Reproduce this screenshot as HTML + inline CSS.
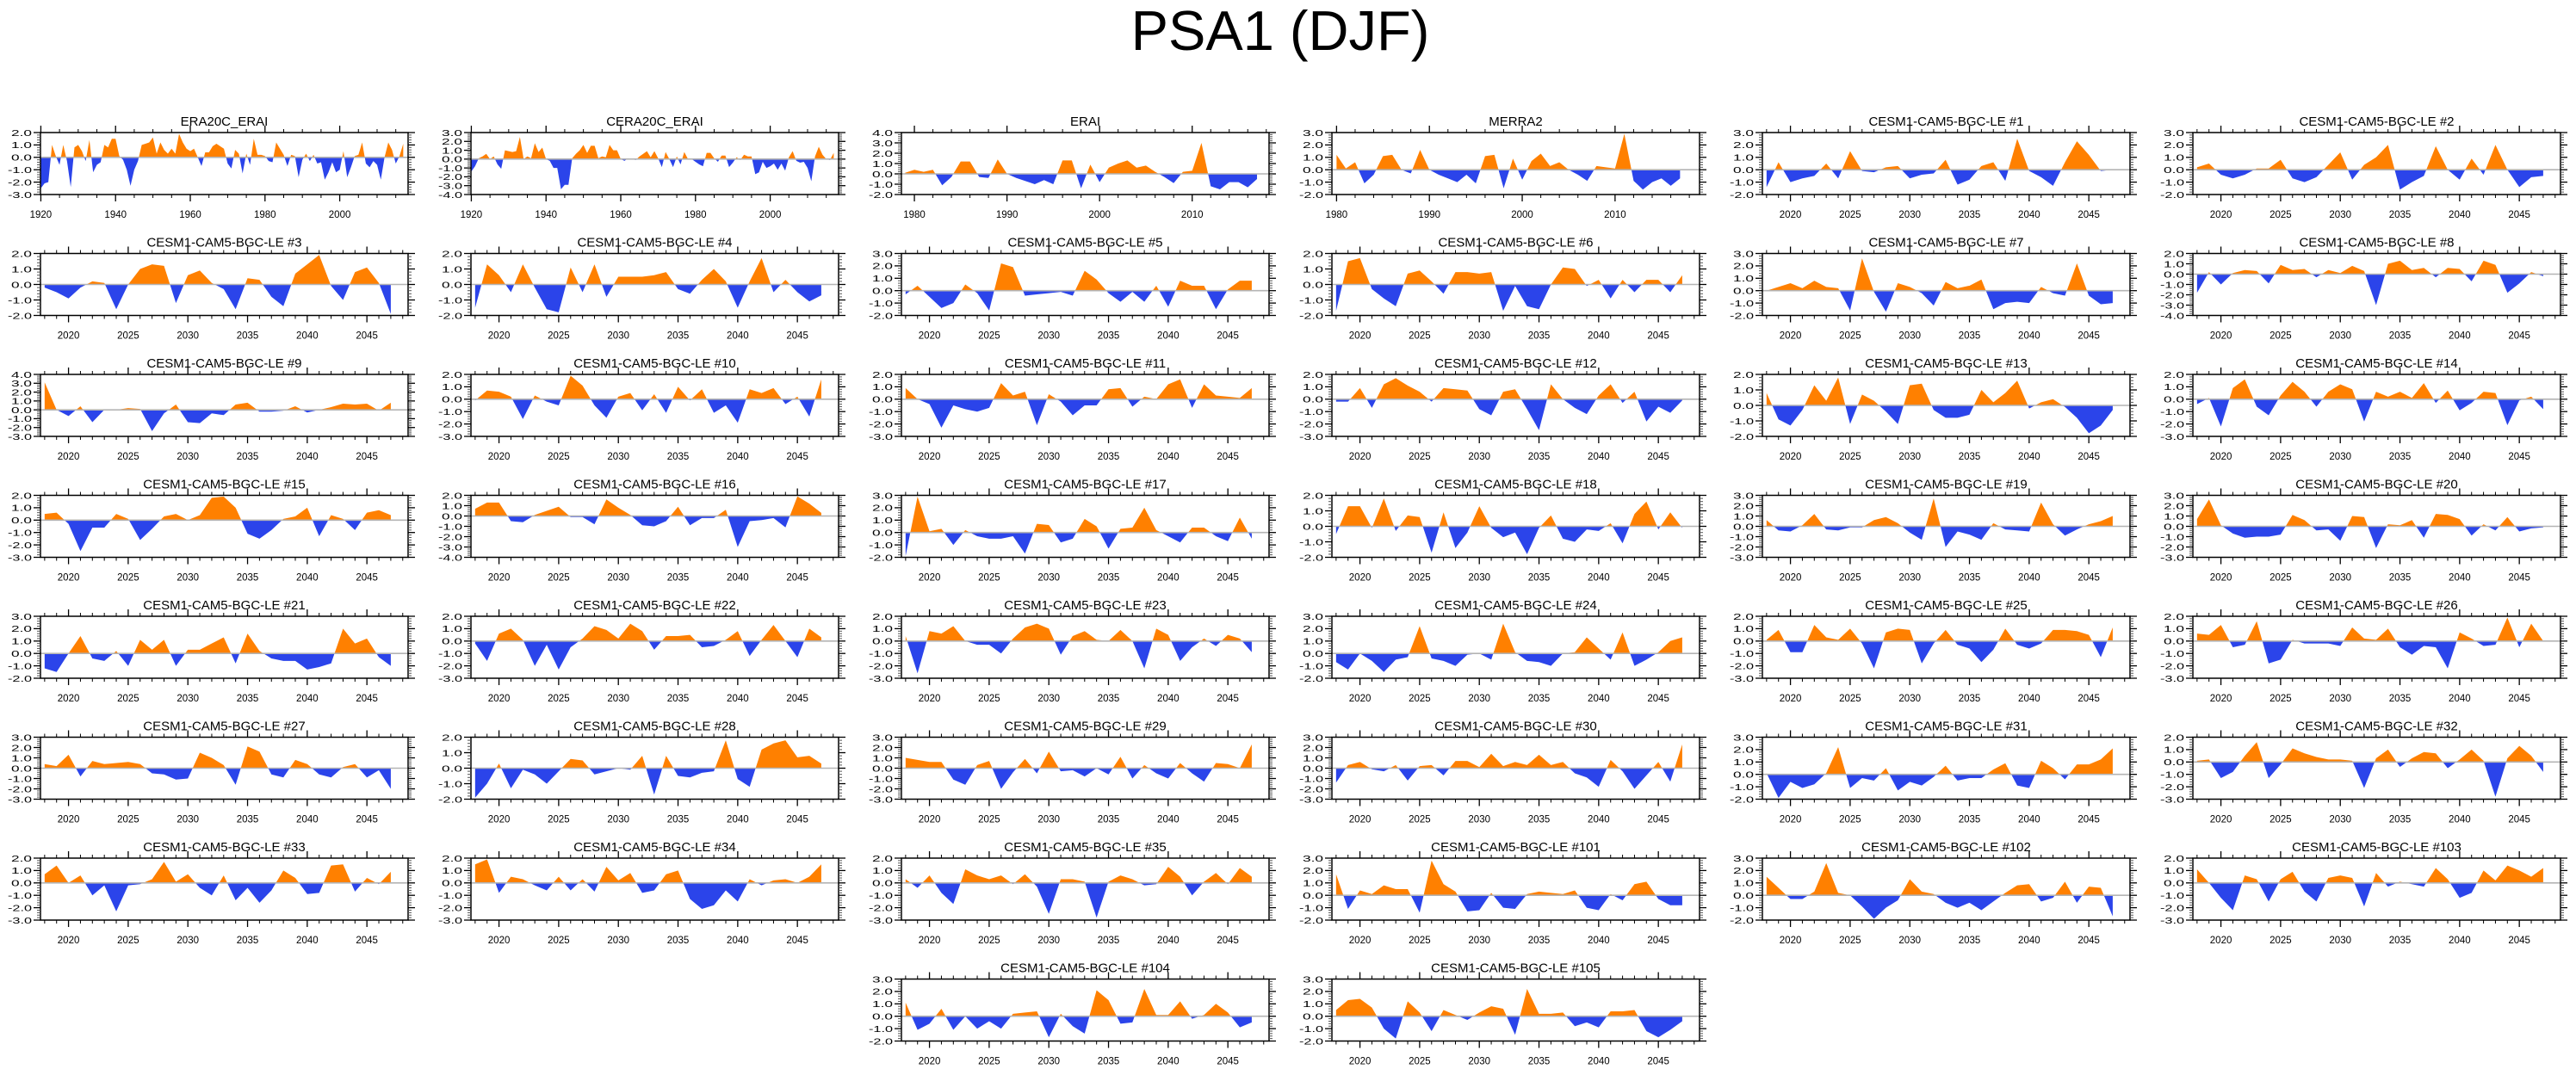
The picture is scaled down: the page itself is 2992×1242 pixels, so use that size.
<!DOCTYPE html>
<html>
<head>
<meta charset="utf-8">
<style>
  html,body{margin:0;padding:0;background:#fff;}
  svg{display:block;}
  text{font-family:"Liberation Sans",Arial,sans-serif;fill:#000;}
</style>
</head>
<body>
<svg id="fig" xmlns="http://www.w3.org/2000/svg" width="2992" height="1242" viewBox="0 0 2992 1242">
  <rect x="0" y="0" width="2992" height="1242" fill="#fff"/>
  <text x="1487" y="58" font-size="65" text-anchor="middle">PSA1 (DJF)</text>
</svg>
<script>
// ---- data (one array per panel) ----
const vERA20C = [-2.5,-2.1,-2.0,1.0,0.1,-0.6,1.0,-0.3,-2.4,0.8,1.0,0.5,-0.3,1.4,-1.2,-0.6,-0.4,1.0,0.8,1.5,1.5,0.1,-0.2,-1.0,-2.3,-1.0,-0.3,1.0,1.1,1.2,1.6,0.3,1.2,0.6,0.3,0.7,0.3,1.9,1.2,0.7,0.5,0.7,0.0,-0.7,0.4,0.4,0.9,1.1,0.9,0.7,-0.5,-0.9,0.6,0.3,-1.3,0.3,-0.6,1.5,0.2,0.2,0.1,-0.3,-0.4,1.2,0.7,0.2,-0.7,0.2,0.1,-1.6,-0.2,0.3,-0.3,0.2,-0.5,-0.4,-1.8,-1.2,-0.4,-1.2,-1.0,0.5,-1.6,-0.8,0.1,0.2,1.2,-0.5,-0.8,-0.3,-0.6,-1.8,0.0,1.2,0.6,-0.5,0.1,1.1];
const vCERA20C = [-1.4,-0.8,0.1,0.3,0.6,0.0,0.3,-0.6,-1.1,1.0,0.9,0.8,0.9,2.5,0.0,0.3,0.1,1.8,0.8,1.3,0.0,-0.2,-1.0,-1.0,-3.4,-2.9,-2.9,0.1,0.6,1.0,1.6,0.7,1.5,1.5,0.1,0.3,0.2,1.6,1.0,1.0,0.0,-0.2,0.1,0.0,-0.1,0.3,0.6,0.9,0.2,0.9,0.1,-0.9,0.8,0.0,-0.9,0.3,-0.6,0.8,0.0,0.0,-0.3,-0.6,-0.8,0.7,0.7,0.1,-0.3,0.4,0.4,-0.9,-0.4,0.2,-0.1,0.5,0.3,0.3,-1.7,-1.5,-0.3,-1.0,-0.8,-0.5,-1.2,-0.5,-1.3,0.2,0.9,-0.2,-0.4,-0.3,-1.0,-2.5,0.3,1.4,0.5,0.0,-0.1,0.7];
const vERAI = [0.1,0.4,0.2,0.4,-1.1,-0.3,1.2,1.2,-0.3,-0.4,1.4,0.0,-0.4,-0.7,-1.0,-0.6,-1.0,1.3,1.3,-1.4,0.9,-0.8,0.6,1.0,1.3,0.6,0.8,0.2,-0.3,-0.9,0.2,0.3,3.0,-1.2,-1.5,-0.8,-0.8,-1.3,-0.5];
const vMERRA2 = [1.2,0.1,0.6,-1.1,-0.4,1.1,1.2,0.0,-0.3,1.6,0.0,-0.4,-0.7,-1.0,-0.4,-1.1,1.1,1.2,-1.5,0.9,-0.8,0.7,1.3,0.3,0.6,0.0,-0.4,-0.9,0.3,0.2,0.1,2.9,-0.9,-1.6,-1.0,-0.7,-1.3,-0.7];
const v1 = [-1.4,0.6,-1.0,-0.7,-0.5,0.5,-0.7,1.5,-0.1,-0.2,0.2,0.3,-0.7,-0.4,-0.3,0.8,-1.2,-0.8,0.3,0.6,-0.9,2.5,-0.1,-0.6,-1.3,0.6,2.3,1.2,-0.1,0.0];
const v2 = [0.2,0.5,-0.4,-0.7,-0.4,0.1,0.1,0.8,-0.7,-1.0,-0.6,0.4,1.4,-0.8,0.4,1.0,2.0,-1.6,-1.0,-0.5,1.9,0.0,-0.8,0.9,-0.4,2.0,0.0,-1.4,-0.6,-0.5];
const v3 = [-0.2,-0.5,-0.9,-0.2,0.2,0.1,-1.6,0.0,1.0,1.3,1.2,-1.2,0.6,0.9,0.1,-0.3,-1.6,0.4,0.3,-0.8,-1.4,0.7,1.3,1.9,-0.1,-1.0,0.8,1.1,0.1,-1.9];
const v4 = [-1.5,1.3,0.6,-0.5,1.3,-0.2,-1.6,-1.8,1.1,-0.5,1.3,-0.8,0.5,0.5,0.5,0.6,0.8,-0.3,-0.6,0.3,1.0,0.2,-1.5,0.2,1.7,-0.5,0.3,-0.5,-1.1,-0.7];
const v5 = [-0.3,0.4,-0.5,-1.4,-1.0,0.5,-0.2,-1.6,2.2,1.9,-0.4,-0.3,-0.2,-0.1,-0.4,1.6,0.9,-0.2,-0.9,-0.1,-0.9,0.4,-1.3,0.8,0.4,0.4,-1.5,0.1,0.8,0.8];
const v6 = [-1.7,1.5,1.7,-0.3,-0.9,-1.4,0.7,0.9,0.2,-0.6,0.8,0.8,0.7,0.8,-1.7,-0.1,-1.4,-1.6,0.0,1.1,1.0,-0.1,0.3,-0.9,0.3,-0.5,0.3,0.3,-0.5,0.6];
const v7 = [0.0,0.3,0.6,0.2,0.8,0.3,0.2,-1.6,2.6,-0.1,-1.7,0.6,0.3,-0.2,-1.2,0.7,0.2,0.4,0.9,-1.5,-1.0,-0.9,-1.0,0.3,-0.2,-0.4,2.2,-0.4,-1.1,-1.0];
const v8 = [-1.8,0.2,-1.0,0.1,0.4,0.3,-0.9,0.9,0.4,0.5,-0.3,0.4,0.1,0.8,0.3,-3.0,1.0,1.3,0.4,0.6,-0.3,0.6,0.5,-0.7,1.3,0.9,-1.8,-0.9,0.2,-0.2];
const v9 = [3.1,0.0,-0.7,0.4,-1.4,0.0,0.0,0.2,0.1,-2.4,-0.4,0.6,-1.4,-1.5,-0.4,-0.6,0.6,0.8,-0.2,-0.2,-0.1,0.4,-0.3,0.0,0.3,0.7,0.6,0.7,-0.1,0.8];
const v10 = [-0.1,0.7,0.6,0.2,-1.6,0.3,-0.2,-0.5,1.9,1.1,-0.5,-1.5,0.2,0.5,-0.9,0.4,-1.1,1.0,-0.1,0.8,-1.1,-0.5,-1.9,0.8,0.5,0.9,-0.4,0.2,-1.4,1.6];
const v11 = [0.9,0.0,-0.4,-2.3,-0.5,-0.8,-1.0,-0.7,1.3,0.3,0.6,-2.1,0.4,-0.2,-1.3,-0.5,-0.5,0.8,0.9,-0.6,0.2,0.0,1.2,1.6,-0.7,1.2,0.3,0.2,0.1,0.9];
const v12 = [-0.2,-0.2,0.9,-0.7,1.2,1.7,1.1,0.6,-0.2,0.9,0.8,0.7,-0.8,-1.3,0.6,0.8,-0.8,-2.5,1.2,0.0,-0.7,-1.2,0.3,1.2,-0.3,0.6,-1.8,-0.6,-1.1,-0.1];
const v13 = [0.8,-0.9,-1.3,-0.3,1.3,0.3,1.8,-1.2,0.7,0.3,-0.4,-1.2,1.3,1.4,-0.3,-0.8,-0.8,-0.6,1.0,0.2,0.8,1.6,-0.2,0.2,0.4,-0.1,-0.8,-1.8,-1.3,-0.3];
const v14 = [-0.4,0.1,-2.2,0.9,1.6,-0.6,-1.3,0.3,1.4,0.6,-0.6,0.6,1.2,0.8,-1.8,0.6,0.2,0.6,0.1,1.3,-0.3,0.7,-0.9,-0.3,0.6,0.5,-2.1,-0.1,0.2,-0.8];
const v15 = [0.5,0.6,-0.3,-2.5,-0.6,-0.6,0.5,0.1,-1.6,-0.7,0.3,0.5,0.0,0.4,1.8,1.9,1.0,-1.1,-1.5,-0.8,0.1,0.3,1.0,-1.3,0.4,0.1,-0.8,0.6,0.8,0.4];
const v16 = [0.7,1.3,1.3,-0.5,-0.6,0.1,0.5,0.9,-0.1,-0.1,-0.8,1.6,0.8,0.1,-0.9,-1.0,-0.5,0.9,-0.9,-0.2,-0.2,0.6,-3.0,-0.5,-0.4,-0.2,-1.1,1.9,1.2,0.3];
const v17 = [-1.9,2.9,0.1,0.3,-1.0,0.2,-0.3,-0.5,-0.5,-0.3,-1.7,0.7,0.6,-0.8,-0.5,1.1,0.5,-1.3,0.3,0.4,2.0,0.2,-0.3,-0.8,0.4,0.4,-0.3,-0.7,1.2,-0.5];
const v18 = [-0.5,1.3,1.3,-0.1,1.8,-0.3,0.7,0.6,-1.7,0.9,-1.4,-0.4,1.3,-0.1,-0.7,-0.4,-1.8,-0.1,0.7,-0.8,-1.0,-0.2,-0.3,0.2,-1.1,0.8,1.6,-0.2,0.9,-0.1];
const v19 = [0.6,-0.4,-0.5,0.1,1.2,-0.3,-0.4,-0.1,-0.1,0.6,0.9,0.3,-0.6,-1.3,2.7,-2.0,-0.5,-0.8,-1.3,0.3,-0.3,-0.4,-0.5,2.3,0.2,-0.9,-0.3,0.2,0.5,1.0];
const v20 = [0.7,2.6,0.1,-0.7,-1.1,-1.0,-1.0,-0.8,1.1,0.6,-0.4,-0.3,-1.4,1.0,0.9,-2.1,0.2,0.1,0.6,-1.1,1.2,1.1,0.7,-0.9,0.2,-0.4,0.9,-0.5,-0.2,-0.1];
const v21 = [-1.2,-1.5,0.0,1.4,-0.4,-0.6,0.2,-1.0,1.1,0.3,1.1,-1.0,0.3,0.3,0.8,1.3,-0.8,1.6,0.2,-0.4,-0.6,-0.6,-1.3,-1.1,-0.8,2.0,0.8,1.2,-0.3,-1.0];
const v22 = [-0.2,-1.6,0.6,1.0,0.1,-2.0,-0.3,-2.3,-0.5,0.2,1.2,0.9,0.2,1.4,0.8,-0.7,0.4,0.4,0.5,-0.5,-0.4,0.1,0.8,-1.2,0.1,1.3,0.0,-1.3,1.0,0.3];
const v23 = [0.4,-2.6,0.8,0.6,1.2,0.0,-0.3,-0.3,-1.0,0.2,1.1,1.4,1.0,-1.1,0.4,0.8,0.1,0.0,0.9,0.0,-2.2,1.0,0.5,-1.6,-0.5,0.2,-0.4,0.5,0.2,-0.9];
const v24 = [-0.7,-1.3,0.0,-0.6,-1.5,-0.5,-0.3,2.2,-0.4,-0.6,-1.0,-0.1,0.0,-0.5,2.4,0.1,-0.6,-0.7,-1.0,0.0,0.1,1.3,0.4,-0.5,1.7,-1.0,-0.5,0.1,1.0,1.3];
const v25 = [0.1,0.9,-0.9,-0.9,1.3,0.3,0.1,1.0,-0.2,-2.2,0.7,1.0,0.9,-1.8,-0.2,0.9,-0.3,-0.6,-1.7,-0.7,1.0,-0.3,-0.6,-0.2,0.9,0.9,0.8,0.5,-1.3,1.1];
const v26 = [0.6,0.5,1.3,-0.5,-0.3,1.6,-1.8,-1.5,0.1,-0.2,-0.2,-0.2,-0.4,1.1,0.2,0.1,1.0,-0.5,-1.1,-0.4,-0.5,-2.2,0.7,0.2,-0.4,-0.3,1.9,-0.5,1.4,0.0];
const v27 = [0.4,0.2,1.3,-0.8,0.7,0.4,0.5,0.6,0.4,-0.5,-0.6,-1.1,-1.0,1.5,1.0,0.3,-1.6,2.1,1.6,-0.6,-0.9,0.8,0.4,-0.6,-0.9,0.1,0.4,-0.9,-0.2,-2.0];
const v28 = [-1.9,-1.0,0.3,-1.3,-0.1,-0.4,-1.0,-0.2,0.6,0.5,-0.4,-0.2,0.0,-0.1,0.8,-1.7,0.8,-0.5,-0.6,-0.3,-0.2,1.8,-0.7,-1.2,1.2,1.6,1.8,0.7,0.8,0.3];
const v29 = [1.0,0.8,0.6,0.6,-1.1,-1.6,0.3,0.7,-2.0,-0.4,0.9,-0.5,1.6,-0.3,-0.2,-0.8,0.0,-0.6,1.1,-1.0,0.3,-0.5,-1.0,0.5,-0.5,-1.3,0.5,0.4,0.0,2.3];
const v30 = [-1.4,0.3,0.6,-0.1,-0.3,0.3,-1.2,0.2,0.3,-0.7,0.7,0.7,0.1,1.4,0.2,0.6,0.3,1.3,0.3,0.6,-0.5,-0.9,-1.8,0.8,-0.3,-2.0,-0.7,0.6,-1.3,2.3];
const v31 = [0.1,-1.9,-0.6,-1.1,-0.8,0.1,2.2,-1.1,-0.3,-0.5,0.5,-1.3,-0.6,-0.9,-0.2,0.7,-0.5,-0.3,-0.3,0.4,0.9,-0.9,-1.1,1.1,0.5,-0.4,0.8,0.8,1.2,2.1];
const v32 = [0.1,0.2,-1.3,-0.8,0.5,1.6,-1.3,-0.2,1.1,0.7,0.4,0.2,0.2,0.1,-2.1,0.3,1.0,-0.4,0.3,0.8,0.7,-0.5,0.2,1.0,0.1,-2.8,0.3,1.3,0.5,-0.8];
const v33 = [0.7,1.4,0.0,0.6,-1.0,-0.2,-2.3,-0.2,-0.1,0.3,1.7,0.1,0.7,-0.4,-1.0,0.6,-1.4,-0.4,-1.6,-0.6,1.0,0.4,-0.9,-0.8,1.4,1.5,-0.7,0.4,-0.1,0.9];
const v34 = [1.5,1.9,-0.8,0.5,0.3,-0.2,-0.6,0.5,-0.6,0.3,-0.7,1.3,0.2,0.8,-0.8,-0.6,0.7,1.0,-1.3,-2.1,-1.8,-0.6,-1.5,0.3,-0.2,0.2,0.3,0.0,0.5,1.5];
const v35 = [0.3,-0.4,0.6,-0.8,-1.7,1.1,0.6,0.3,0.6,-0.1,0.7,-0.3,-2.5,0.3,0.3,0.1,-2.8,0.1,0.6,0.3,-0.2,-0.1,1.3,0.5,-1.0,0.1,0.8,-0.1,1.2,0.5];
const v101 = [1.7,-1.1,0.4,0.1,0.8,0.5,0.5,-1.4,2.8,0.9,0.3,-1.3,-1.2,0.2,-1.0,-1.1,0.1,0.3,0.2,0.1,0.4,-1.0,-1.2,0.1,-0.4,0.9,1.1,-0.3,-0.8,-0.8];
const v102 = [1.5,0.6,-0.3,-0.3,0.3,2.6,0.2,0.0,-0.9,-1.9,-1.0,-0.4,1.3,0.3,0.1,-0.6,-1.0,-0.6,-1.2,-0.5,0.2,0.8,0.9,-0.5,-0.2,1.1,-0.6,0.7,0.6,-1.7];
const v103 = [1.1,0.0,-1.2,-2.2,0.6,0.3,-1.5,0.3,0.9,-0.7,-1.5,0.4,0.6,0.4,-1.9,0.8,-0.3,0.1,-0.1,-0.3,1.2,0.3,-1.2,-0.8,1.0,0.2,1.4,1.0,0.5,1.2];
const v104 = [1.1,-1.1,-0.6,0.6,-1.1,0.0,-1.0,-0.4,-1.0,0.2,0.3,0.4,-1.7,0.2,-0.8,-1.4,2.1,1.3,-0.6,-0.5,2.2,0.1,0.1,1.2,-0.2,0.1,1.0,0.3,-0.9,-0.5];
const v105 = [0.5,1.3,1.4,0.7,-1.0,-1.8,1.2,0.3,-1.2,0.5,0.1,-0.3,0.3,0.8,0.6,-1.5,2.2,0.2,0.2,0.3,-0.8,-0.5,-0.9,0.4,0.4,0.5,-1.2,-1.7,-1.1,-0.4];

// panel titles, start years and axis ranges
const titles = ["ERA20C_ERAI","CERA20C_ERAI","ERAI","MERRA2",
  "CESM1-CAM5-BGC-LE #1","CESM1-CAM5-BGC-LE #2","CESM1-CAM5-BGC-LE #3","CESM1-CAM5-BGC-LE #4","CESM1-CAM5-BGC-LE #5","CESM1-CAM5-BGC-LE #6","CESM1-CAM5-BGC-LE #7","CESM1-CAM5-BGC-LE #8",
  "CESM1-CAM5-BGC-LE #9","CESM1-CAM5-BGC-LE #10","CESM1-CAM5-BGC-LE #11","CESM1-CAM5-BGC-LE #12","CESM1-CAM5-BGC-LE #13","CESM1-CAM5-BGC-LE #14",
  "CESM1-CAM5-BGC-LE #15","CESM1-CAM5-BGC-LE #16","CESM1-CAM5-BGC-LE #17","CESM1-CAM5-BGC-LE #18","CESM1-CAM5-BGC-LE #19","CESM1-CAM5-BGC-LE #20",
  "CESM1-CAM5-BGC-LE #21","CESM1-CAM5-BGC-LE #22","CESM1-CAM5-BGC-LE #23","CESM1-CAM5-BGC-LE #24","CESM1-CAM5-BGC-LE #25","CESM1-CAM5-BGC-LE #26",
  "CESM1-CAM5-BGC-LE #27","CESM1-CAM5-BGC-LE #28","CESM1-CAM5-BGC-LE #29","CESM1-CAM5-BGC-LE #30","CESM1-CAM5-BGC-LE #31","CESM1-CAM5-BGC-LE #32",
  "CESM1-CAM5-BGC-LE #33","CESM1-CAM5-BGC-LE #34","CESM1-CAM5-BGC-LE #35","CESM1-CAM5-BGC-LE #101","CESM1-CAM5-BGC-LE #102","CESM1-CAM5-BGC-LE #103",
  "CESM1-CAM5-BGC-LE #104","CESM1-CAM5-BGC-LE #105"];
const series = [vERA20C,vCERA20C,vERAI,vMERRA2,v1,v2,v3,v4,v5,v6,v7,v8,v9,v10,v11,v12,v13,v14,v15,v16,v17,v18,v19,v20,v21,v22,v23,v24,v25,v26,v27,v28,v29,v30,v31,v32,v33,v34,v35,v101,v102,v103,v104,v105];
const startYears = [1920,1920,1979,1980];            // remaining panels start in 2018
const yMins = [-3,-4,-2,-2,-2,-2,-2,-2,-2,-2,-2,-4,-3,-3,-3,-3,-2,-3,-3,-4,-2,-2,-3,-3,-2,-3,-3,-2,-3,-3,-3,-2,-3,-3,-2,-3,-3,-3,-3,-2,-2,-3,-2,-2];
const yMaxs = [2,3,4,3,3,3,2,2,3,2,3,2,4,2,2,2,2,2,2,2,3,2,3,3,3,2,2,3,2,2,3,2,3,3,3,2,2,2,2,3,3,2,3,3];
const xTickLabelsCentury = ["1920","1940","1960","1980","2000"];
const xTickLabelsReanalysis = ["1980","1990","2000","2010"];
const xTickLabelsModel = ["2020","2025","2030","2035","2040","2045"];

// ---- layout ----
const NS = "http://www.w3.org/2000/svg";
const svg = document.getElementById("fig");
const PW = 427, PH = 72;
function mk(tag, attrs, parent){
  const e = document.createElementNS(NS, tag);
  for (const k in attrs) e.setAttribute(k, attrs[k]);
  (parent||svg).appendChild(e);
  return e;
}
function fmt(v){ return v.toFixed(1); }

series.forEach(function(vals, i){
  let col, row;
  if (i < 42){ col = i % 6; row = Math.floor(i/6); } else { col = 2 + (i-42); row = 7; }
  const L = 47 + 500*col, T = 154 + 140.5*row;
  let x0, x1, start, majStep, minStep, labels;
  if (i < 2){ x0 = 1919.9; x1 = 2018.3; start = startYears[i]; majStep = 20; minStep = 5; labels = xTickLabelsCentury; }
  else if (i === 2){ x0 = 1978.6; x1 = 2018.3; start = startYears[i]; majStep = 10; minStep = 2; labels = xTickLabelsReanalysis; }
  else if (i === 3){ x0 = 1979.5; x1 = 2019.1; start = startYears[i]; majStep = 10; minStep = 2; labels = xTickLabelsReanalysis; }
  else { x0 = 2017.65; x1 = 2048.45; start = 2018; majStep = 5; minStep = 1; labels = xTickLabelsModel; }
  const y0 = yMins[i], y1 = yMaxs[i];
  const sx = function(yr){ return L + (yr - x0)/(x1 - x0)*PW; };
  const sy = function(v){ return T + (y1 - v)/(y1 - y0)*PH; };

  const g = mk("g", {});
  
  

  const t = mk("text", {x: L + PW/2, y: T - 8, "font-size": 15, "text-anchor": "middle"}, g);
  t.textContent = titles[i];
  
  

  // clip paths
  const cid = "c" + i;
  const defs = mk("defs", {}, g);
  const cpA = mk("clipPath", {id: cid + "a"}, defs);
  mk("rect", {x: L, y: T, width: PW, height: sy(0) - T}, cpA);
  const cpB = mk("clipPath", {id: cid + "b"}, defs);
  mk("rect", {x: L, y: sy(0), width: PW, height: T + PH - sy(0)}, cpB);

  let pts = [[sx(start), sy(0)]];
  vals.forEach(function(v, k){ pts.push([sx(start + k), sy(v)]); });
  pts.push([sx(start + vals.length - 1), sy(0)]);
  const ps = pts.map(function(p){ return p[0].toFixed(2) + "," + p[1].toFixed(2); }).join(" ");
  const pos = mk("polygon", {points: ps, fill: "#ff8000", "clip-path": "url(#" + cid + "a)"}, g);
  
  
  const neg = mk("polygon", {points: ps, fill: "#2b44ea", "clip-path": "url(#" + cid + "b)"}, g);
  
  

  const zl = mk("line", {x1: L, x2: L + PW, y1: sy(0), y2: sy(0), stroke: "#b4b4b4", "stroke-width": 1.6}, g);
  
  

  const fr = mk("rect", {x: L, y: T, width: PW, height: PH, fill: "none", stroke: "#000", "stroke-width": 1.5}, g);
  
  

  // x ticks
  const firstMinor = Math.ceil(x0 / minStep) * minStep;
  for (let yr = firstMinor; yr <= x1; yr += minStep){
    const major = (yr % majStep === 0);
    const len = major ? 8 : 4;
    const x = sx(yr);
    const sw = major ? 1.3 : 1;
    mk("line", {x1: x, x2: x, y1: T, y2: T - len, stroke: "#000", "stroke-width": sw}, g);
    mk("line", {x1: x, x2: x, y1: T + PH, y2: T + PH + len, stroke: "#000", "stroke-width": sw}, g);
  }
  labels.forEach(function(lb){
    const yr = parseFloat(lb);
    if (yr < x0 || yr > x1) return;
    const tx = mk("text", {x: sx(yr), y: T + PH + 27, "font-size": 11.5, "text-anchor": "middle"}, g);
    tx.textContent = lb;
    
    
  });

  // y ticks
  for (let k = Math.round(y0*5); k <= Math.round(y1*5); k++){
    const v = k/5;
    const major = (k % 5 === 0);
    const len = major ? 8 : 4;
    const y = sy(v);
    const sw = major ? 1.3 : 1;
    const col2 = major ? "#000" : "#555";
    mk("line", {x1: L, x2: L - len, y1: y, y2: y, stroke: col2, "stroke-width": sw}, g);
    mk("line", {x1: L + PW, x2: L + PW + len, y1: y, y2: y, stroke: col2, "stroke-width": sw}, g);
    if (major){
      const s = fmt(v);
      const ty = mk("text", {x: L - 10, y: y + 3.8, "font-size": 10.5, "text-anchor": "end",
        textLength: (s.charAt(0) === "-") ? 28 : 24, lengthAdjust: "spacingAndGlyphs"}, g);
      ty.textContent = s;
      
      
    }
  }
});
</script>
</body>
</html>
